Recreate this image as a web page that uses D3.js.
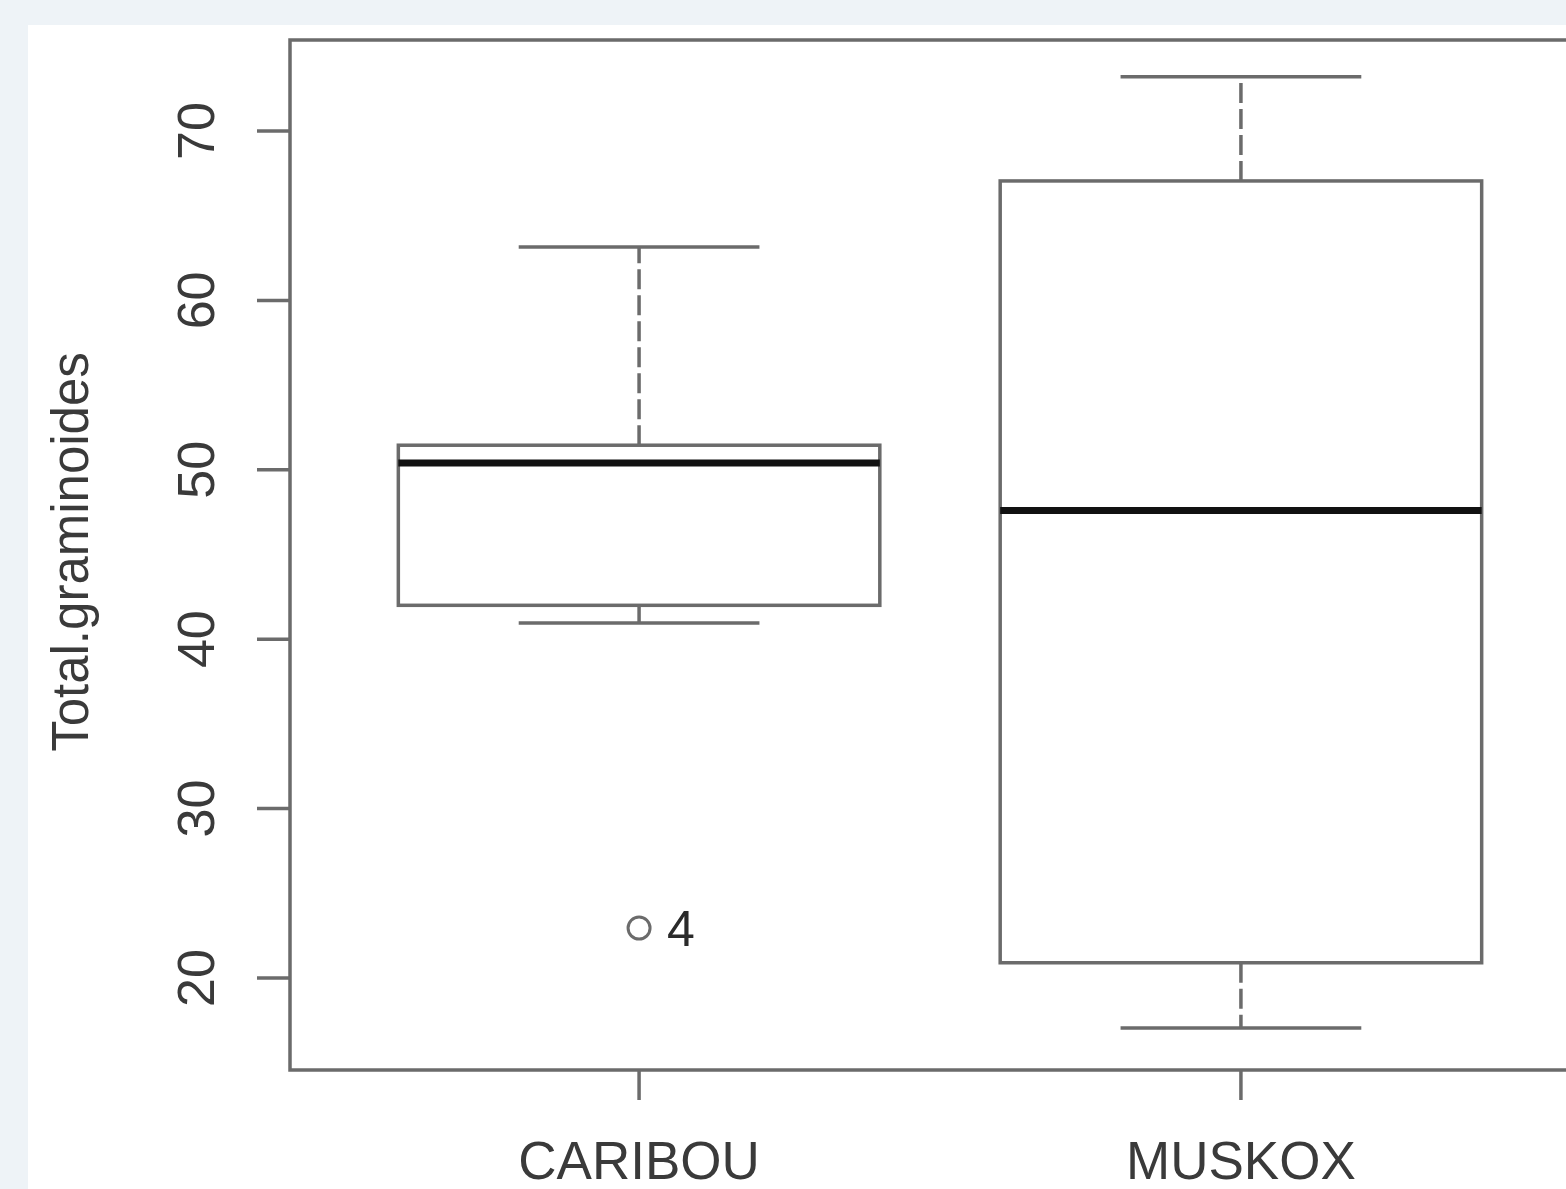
<!DOCTYPE html>
<html>
<head>
<meta charset="utf-8">
<script src="https://cdn.jsdelivr.net/npm/d3@7"></script>
<style>
  html, body { margin: 0; padding: 0; background: #eef3f7; overflow: hidden; }
  text { font-family: "Liberation Sans", Arial, sans-serif; fill: #3a3a3a; }
</style>
</head>
<body>
<div id="chart"></div>
<script>
// values
var groups = ["CARIBOU", "MUSKOX"];
var whiskerLow = [40.95, 17.05];
var q1 = [42.0, 20.9];
var median = [50.4, 47.6];
var q3 = [51.45, 67.05];
var whiskerHigh = [63.15, 73.2];

var outlierGroup = ["CARIBOU"];
var outlierValue = [22.95];
var outlierLabel = ["4"];

var yTicks = [20, 30, 40, 50, 60, 70];
var yLabel = "Total.graminoides";

var width = 1566,
    height = 1189;

var svg = d3.select("#chart")
    .append("svg")
    .attr("width", width)
    .attr("height", height);

// white panel behind the plot
svg.append("rect")
    .attr("x", 28)
    .attr("y", 25)
    .attr("width", width - 28)
    .attr("height", height - 25)
    .attr("fill", "#fff");

var plot = {left: 290, top: 40, right: 1590, bottom: 1070};

var x = d3.scaleLinear()
    .domain([0.42, 2.58])
    .range([plot.left, plot.right]);

var y = d3.scaleLinear()
    .domain([14.57, 75.37])
    .range([plot.bottom, plot.top]);

var lineCol = "#6b6b6b",
    lw = 3.5;

var boxes = groups.map(function(g, i) {
  return {name: g, pos: i + 1, lo: whiskerLow[i], q1: q1[i], med: median[i], q3: q3[i], hi: whiskerHigh[i]};
});

var node = svg.selectAll(".box")
    .data(boxes)
  .enter().append("g")
    .attr("class", "box");

// whiskers (dashed)
node.append("line")
    .attr("x1", function(d) { return x(d.pos); })
    .attr("x2", function(d) { return x(d.pos); })
    .attr("y1", function(d) { return y(d.q3); })
    .attr("y2", function(d) { return y(d.hi); })
    .attr("stroke", lineCol)
    .attr("stroke-width", lw)
    .attr("stroke-dasharray", "20,6");

node.append("line")
    .attr("x1", function(d) { return x(d.pos); })
    .attr("x2", function(d) { return x(d.pos); })
    .attr("y1", function(d) { return y(d.q1); })
    .attr("y2", function(d) { return y(d.lo); })
    .attr("stroke", lineCol)
    .attr("stroke-width", lw)
    .attr("stroke-dasharray", "20,6");

// whisker caps
["hi", "lo"].forEach(function(k) {
  node.append("line")
      .attr("x1", function(d) { return x(d.pos - 0.2); })
      .attr("x2", function(d) { return x(d.pos + 0.2); })
      .attr("y1", function(d) { return y(d[k]); })
      .attr("y2", function(d) { return y(d[k]); })
      .attr("stroke", lineCol)
      .attr("stroke-width", lw);
});

// box
node.append("rect")
    .attr("x", function(d) { return x(d.pos - 0.4); })
    .attr("width", function(d) { return x(d.pos + 0.4) - x(d.pos - 0.4); })
    .attr("y", function(d) { return y(d.q3); })
    .attr("height", function(d) { return y(d.q1) - y(d.q3); })
    .attr("fill", "none")
    .attr("stroke", lineCol)
    .attr("stroke-width", lw);

// median
node.append("line")
    .attr("x1", function(d) { return x(d.pos - 0.4); })
    .attr("x2", function(d) { return x(d.pos + 0.4); })
    .attr("y1", function(d) { return y(d.med); })
    .attr("y2", function(d) { return y(d.med); })
    .attr("stroke", "#111")
    .attr("stroke-width", 7);

// outliers
var outs = outlierValue.map(function(v, i) {
  return {pos: groups.indexOf(outlierGroup[i]) + 1, value: v, label: outlierLabel[i]};
});

svg.selectAll(".outlier")
    .data(outs)
  .enter().append("circle")
    .attr("class", "outlier")
    .attr("cx", function(d) { return x(d.pos); })
    .attr("cy", function(d) { return y(d.value); })
    .attr("r", 11)
    .attr("fill", "none")
    .attr("stroke", lineCol)
    .attr("stroke-width", 3);

svg.selectAll(".outlierLabel")
    .data(outs)
  .enter().append("text")
    .attr("class", "outlierLabel")
    .attr("x", function(d) { return x(d.pos) + 28; })
    .attr("y", function(d) { return y(d.value) + 18; })
    .style("font-size", "50px")
    .style("fill", "#2a2a2a")
    .text(function(d) { return d.label; });

// frame
svg.append("rect")
    .attr("x", plot.left)
    .attr("y", plot.top)
    .attr("width", plot.right - plot.left)
    .attr("height", plot.bottom - plot.top)
    .attr("fill", "none")
    .attr("stroke", lineCol)
    .attr("stroke-width", lw);

// y axis
var yAxis = svg.append("g");
yAxis.selectAll("line")
    .data(yTicks)
  .enter().append("line")
    .attr("x1", plot.left - 33)
    .attr("x2", plot.left)
    .attr("y1", function(d) { return y(d); })
    .attr("y2", function(d) { return y(d); })
    .attr("stroke", lineCol)
    .attr("stroke-width", lw);

yAxis.selectAll("text")
    .data(yTicks)
  .enter().append("text")
    .attr("transform", function(d) { return "translate(214," + y(d) + ") rotate(-90)"; })
    .attr("text-anchor", "middle")
    .style("font-size", "52px")
    .text(function(d) { return d; });

// x axis
var xAxis = svg.append("g");
xAxis.selectAll("line")
    .data(boxes)
  .enter().append("line")
    .attr("x1", function(d) { return x(d.pos); })
    .attr("x2", function(d) { return x(d.pos); })
    .attr("y1", plot.bottom)
    .attr("y2", plot.bottom + 30)
    .attr("stroke", lineCol)
    .attr("stroke-width", lw);

xAxis.selectAll("text")
    .data(boxes)
  .enter().append("text")
    .attr("x", function(d) { return x(d.pos); })
    .attr("y", 1179)
    .attr("text-anchor", "middle")
    .style("font-size", "53px")
    .text(function(d) { return d.name; });

// y label
svg.append("text")
    .attr("transform", "translate(88," + ((plot.top + plot.bottom) / 2 - 3) + ") rotate(-90)")
    .attr("text-anchor", "middle")
    .style("font-size", "51px")
    .text(yLabel);
</script>
</body>
</html>
